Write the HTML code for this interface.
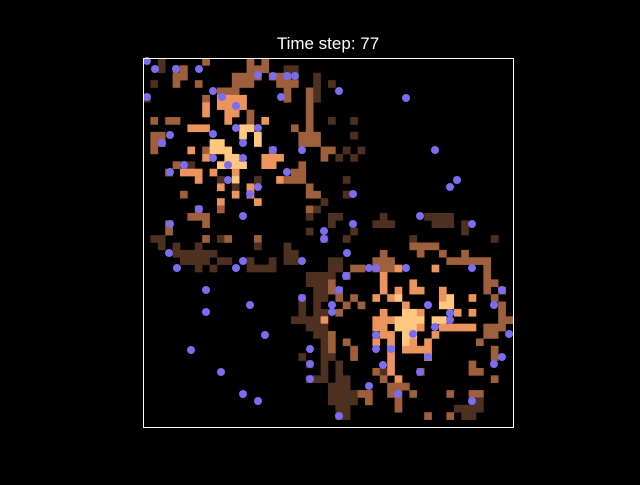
<!DOCTYPE html>
<html><head><meta charset="utf-8"><style>
body{margin:0;background:#000;width:640px;height:480px;overflow:hidden;font-family:"Liberation Sans",sans-serif}
</style></head><body>
<svg width="640" height="480" xmlns="http://www.w3.org/2000/svg">
<rect width="640" height="480" fill="#000"/>
<text x="328" y="49" fill="#fff" font-size="17" text-anchor="middle" font-family="Liberation Sans, sans-serif">Time step: 77</text>
<g id="cells"></g>
<g id="agents"></g>
<rect x="143.5" y="58.5" width="370" height="369" fill="none" stroke="#fff" stroke-width="1"/>
</svg>
<script>
// rows of cells: "row:col+level ..." levels d=dark b=brown o=orange y=light
const cellRows = [
"0:2d 8b 14b 16b","1:2d 4d 5b 14b 15b 16b 19d 20d","2:4b 5b 12b 13b 14b 15b 17b 18b 19b 20d 23d",
"3:1d 4b 7b 12b 13b 14b 18b 19b 20b 23d 25d","4:10b 11b 12b 19b 22b 23d","5:0d 8b 10o 11o 12o 13o 19b 22b 23d",
"6:8o 10o 11o 12o 13o 22b","7:8o 11o 12o 14b 22b","8:1b 3b 4b 11o 14b 16o 22b 25d 28d",
"9:6o 7o 8o 13y 14y 20b 22b","10:1b 2b 13y 15y 21b 22b 23b 28d","11:1b 2b 9y 10y 15y 21b 22b 23b",
"12:1b 6o 8b 9y 10y 11y 17b 24b 25b 27d 29d","13:8o 11y 12y 16o 17o 18o 24b 26d 28d",
"14:4b 5d 6d 10y 11y 12y 13y 16o 17o 21b","15:3b 5o 6o 7o 9o 12o 20b 21b",
"16:7o 10d 12y 15d 18o 19b 20b 21b 27d","17:10o 12d 14o 22b","18:5b 12o 14o 22b 23b 27d",
"19:10o 15o 24d","20:7b 10b 22b 23d","21:6b 7b 8b 22d 25d 26d 32d 38d 39d 40d 41d",
"22:3b 8b 25d 31d 32d 33d 39d 40d 41d 43d","23:3b 22d 28d 43d","24:1d 2d 8b 10d 11b 15b 24d 27d 36d 47d",
"25:2d 4d 7d 15d 19d 36b 37b 38b 39b","26:4d 5d 6d 7d 8d 9d 19d 20d 32b 37b 40b 43b",
"27:5d 6d 7d 8d 10d 11d 14d 17d 19d 20d 25d 26d 31b 32b 33b 41b 42b 43b 44b 45b 46b",
"28:7d 9d 14d 15d 16d 17d 25d 26d 28b 29b 31b 32b 33b 34o 39o 46b",
"29:22d 23d 24d 25d 27b 32o 46b","30:22d 23d 24d 25b 32o 36o 46b 47b",
"31:23d 24d 25b 26b 32o 34o 36o 37o 40o 46b 48b","32:21d 23d 24d 26b 28b 31o 33o 34y 40o 41y 44o 47b",
"33:21d 23d 27b 29b 35o 40y 41y 48b","34:21d 23d 24d 26b 32o 35y 36y 37o 42o 44o 48b",
"35:20d 21d 22d 23d 24o 31o 32o 33o 34y 35y 36y 37y 39y 40y 48b 49b",
"36:22d 23d 24d 31o 32o 34y 35y 36y 37o 40o 41o 42o 43o 44o 46b 47b 48b",
"37:23d 24d 25b 31d 32o 33o 35y 36y 39o 46b 47b","38:24d 25b 27b 31o 33o 35y 36o 38o 45b",
"39:24d 25b 28b 33o 35o 36o 37o 38o 47b","40:21d 24d 25d 28b 33o 38o 47b","41:22d 24d 26d 33o 44b",
"42:24d 26d 31b 32d 33o 37b 44b 45b","43:22d 23d 24d 26d 27d 32b 34o 47b",
"44:25d 26d 27d 33b 34b 35b","45:25d 26d 27d 28d 29b 30b 33b 34b 36b 41b 44b 45b",
"46:25d 26d 27d 28d 30b 34b 44d 45d","47:26d 27d 34b 42d 43d 44d 45d","48:26d 27d 38b 41b 43d 44d"
];
const levelColors = {d:"#4d3020", b:"#9e603c", o:"#ec935e", y:"#ffc77f"};
const agentX = [147,155,176,199,147,213,222,236,258,273,287,295,281,339,406,236,258,213,170,162,243,273,302,435,457,450,184,170,213,228,243,287,258,250,228,353,199,420,472,353,324,324,170,243,169,177,243,236,302,347,369,376,406,472,206,206,250,265,191,221,243,258,302,339,332,346,310,310,310,332,428,502,494,450,450,435,509,376,413,376,391,428,502,494,420,383,369,398,472,339];
const agentY = [61,69,69,69,97,91,97,106,75,76,76,76,97,91,98,128,128,134,135,143,143,150,150,150,180,187,165,172,158,165,158,172,187,194,180,194,209,216,224,224,231,239,224,216,253,268,261,268,261,253,268,268,268,268,290,312,305,335,350,372,394,401,298,290,312,276,349,364,379,305,305,290,305,313,320,327,334,335,334,349,349,357,357,364,372,365,386,394,401,416];
const x0=143, y0=58, cw=370/50, ch=369/50;
const colX = c => x0 + c*cw;
const rowY = r => y0 + r*ch;
const NS="http://www.w3.org/2000/svg";
const cg=document.getElementById('cells');
cellRows.forEach(s=>{
  const [r,rest]=s.split(':');
  rest.split(' ').forEach(t=>{
    const c=parseInt(t), l=t.slice(-1);
    const e=document.createElementNS(NS,'rect');
    e.setAttribute('x',colX(c).toFixed(2));
    e.setAttribute('y',rowY(+r).toFixed(2));
    e.setAttribute('width',(cw+0.3).toFixed(2));
    e.setAttribute('height',(ch+0.3).toFixed(2));
    e.setAttribute('fill',levelColors[l]);
    
    
    cg.appendChild(e);
  });
});
const ag=document.getElementById('agents');
agentX.forEach((x,i)=>{
  const e=document.createElementNS(NS,'circle');
  e.setAttribute('cx',x);e.setAttribute('cy',agentY[i]);e.setAttribute('r',4);
  e.setAttribute('fill','#7b6cf0');
  
  
  ag.appendChild(e);
});
</script>
</body></html>
